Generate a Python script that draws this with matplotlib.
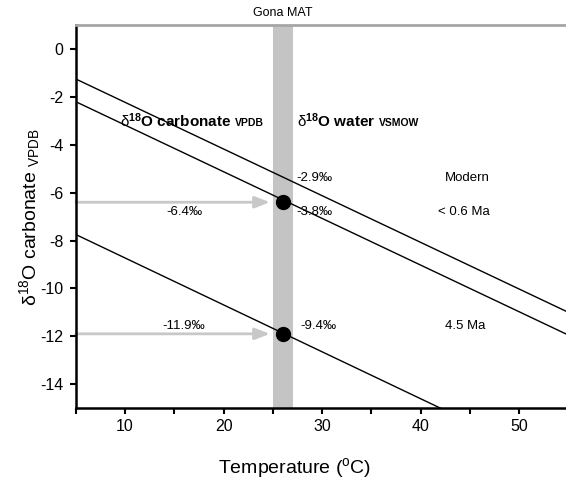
import matplotlib
matplotlib.use("Agg")
import matplotlib.pyplot as plt

plt.rcParams["font.family"] = ["Liberation Sans", "DejaVu Sans"]
plt.rcParams["mathtext.fontset"] = "custom"
plt.rcParams["mathtext.rm"] = "Liberation Sans"
plt.rcParams["mathtext.it"] = "Liberation Sans:italic"
plt.rcParams["mathtext.bf"] = "Liberation Sans:bold"
plt.rcParams["axes.unicode_minus"] = False

# temperature end points of the calibration lines
temps = [5, 55]
modern = [-1.25, -11.0]        # -2.9 permil water
young = [-2.2, -11.95]         # -3.8 permil water (< 0.6 Ma)
old = [-7.75, -17.55]          # -9.4 permil water (4.5 Ma)

gona_mat = (25, 27)
mat_temp = 26
carb_values = [-6.4, -11.9]
carb_labels = ["-6.4‰", "-11.9‰"]
water_labels = ["-2.9‰", "-3.8‰", "-9.4‰"]
age_labels = ["Modern", "< 0.6 Ma", "4.5 Ma"]

fig = plt.figure(figsize=(5.66, 4.84), dpi=100)
ax = fig.add_axes([0.134, 0.157, 0.870, 0.791])

ax.axvspan(gona_mat[0], gona_mat[1], color="#c4c4c4", lw=0, zorder=0)
for ys in (modern, young, old):
    ax.plot(temps, ys, color="black", lw=1, zorder=2)

for v in carb_values:
    ax.annotate("", xy=(24.7, v), xytext=(5, v),
                arrowprops=dict(arrowstyle="-|>,head_length=0.9,head_width=0.35",
                                color="#c8c8c8", lw=2, shrinkA=0, shrinkB=0),
                zorder=1)
    ax.plot([mat_temp], [v], "o", color="black", ms=10, zorder=4)

ax.text(16.0, -6.79, carb_labels[0], fontsize=9.5, ha="center", va="center")
ax.text(16.0, -11.58, carb_labels[1], fontsize=9.5, ha="center", va="center")
ax.text(27.4, -5.37, water_labels[0], fontsize=9.5, va="center")
ax.text(27.4, -6.79, water_labels[1], fontsize=9.5, va="center")
ax.text(27.8, -11.58, water_labels[2], fontsize=9.5, va="center")
ax.text(44.7, -5.37, age_labels[0], fontsize=9.5, ha="center", va="center")
ax.text(44.4, -6.79, age_labels[1], fontsize=9.5, ha="center", va="center")
ax.text(44.5, -11.58, age_labels[2], fontsize=9.5, ha="center", va="center")

t1 = ax.text(9.47, -3.25, r"$\mathrm{\delta}^{\mathbf{18}}\mathbf{O\ carbonate}$",
             fontsize=11, va="baseline")
ax.annotate("VPDB", xy=(1, 0), xycoords=t1, xytext=(2.5, 1.5), textcoords="offset points",
            fontsize=7.5, fontweight="bold", va="bottom")
t2 = ax.text(27.45, -3.25, r"$\mathrm{\delta}^{\mathbf{18}}\mathbf{O\ water}$",
             fontsize=11, va="baseline")
ax.annotate("VSMOW", xy=(1, 0), xycoords=t2, xytext=(2.5, 1.5), textcoords="offset points",
            fontsize=7.5, fontweight="bold", va="bottom")

ax.text(26, 1.25, "Gona MAT", fontsize=9, ha="center", va="bottom")

ax.set_xlim(5, 55)
ax.set_ylim(-15, 1)
ax.set_xticks(range(5, 56, 5))
ax.set_xticklabels(["" if t % 10 else str(t) for t in range(5, 56, 5)])
ax.set_yticks(range(-14, 1, 2))
ax.tick_params(direction="out", length=4, width=1.5, labelsize=11.5)
ax.tick_params(axis="x", pad=4)
ax.tick_params(axis="y", pad=5)

ax.spines["left"].set_linewidth(1.8)
ax.spines["bottom"].set_linewidth(1.8)
ax.spines["top"].set_color("#a6a6a6")
ax.spines["top"].set_linewidth(2)
ax.spines["right"].set_visible(False)

ax.set_xlabel("Temperature ($^{\\mathrm{o}}$C)", fontsize=14)
ax.xaxis.set_label_coords(0.445, -0.125)
ax.set_ylabel(r"$\mathrm{\delta}^{18}$O carbonate $_{\mathrm{VPDB}}$", fontsize=14,
              va="center")
ax.yaxis.set_label_coords(-0.093, 0.5)

fig.savefig("out.png", dpi=100)
